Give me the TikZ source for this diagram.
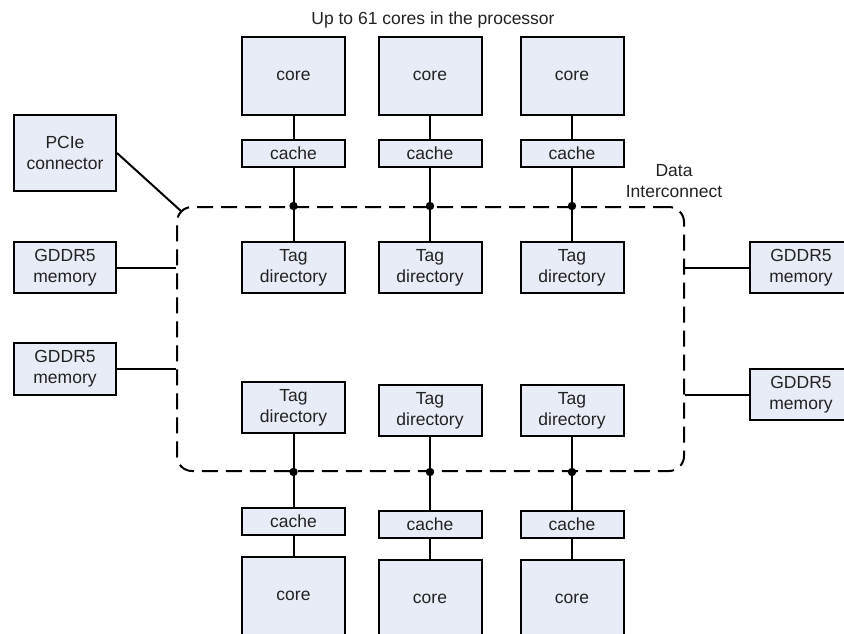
\documentclass[tikz,border=0pt]{standalone}
\usepackage{fontspec}
\setmainfont{Liberation Sans}
\begin{document}
\begin{tikzpicture}[x=1pt,y=-1pt,
  blk/.style={draw=black, fill=boxfill, line width=2pt, inner sep=0pt,
    align=center, font=\fontsize{17.5}{21}\selectfont, text=textgray, minimum width=103pt},
  corebox/.style={blk, minimum height=78pt},
  cachebox/.style={blk, minimum height=27pt},
  tagbox/.style={blk, minimum height=51pt},
  membox/.style={blk, minimum width=102pt, minimum height=51pt},
  wire/.style={line width=2pt},
  ringline/.style={line width=2pt, dash pattern=on 16pt off 8pt, rounded corners=15pt},
  lbl/.style={font=\fontsize{17.5}{21}\selectfont, text=textgray, align=center, inner sep=0pt}]
\definecolor{boxfill}{RGB}{232,236,246}
\definecolor{textgray}{RGB}{34,34,34}
\useasboundingbox (0,0) rectangle (844,633);
\clip (0,0) rectangle (844,633);

% interconnect ring
\node[draw, ringline, minimum width=507pt, minimum height=264pt, inner sep=0pt] (ring) at (430.5,339) {};
\coordinate (ringcorner) at (181.4,211.4);

% title and ring label
\node[lbl] (title) at (433,20) {Up to 61 cores in the processor};
\node[lbl] (dilabel) at (674,181) {Data\\Interconnect};

% upper row: core, cache, tag directory
\node[corebox]  (ca1) at (293.5,76) {core};
\node[corebox]  (ca2) at (430,76) {core};
\node[corebox]  (ca3) at (572,76) {core};
\node[cachebox] (ka1) at (293.5,153.5) {cache};
\node[cachebox] (ka2) at (430,153.5) {cache};
\node[cachebox] (ka3) at (572,153.5) {cache};
\node[tagbox]   (ta1) at (293.5,267.5) {Tag\\directory};
\node[tagbox]   (ta2) at (430,267.5) {Tag\\directory};
\node[tagbox]   (ta3) at (572,267.5) {Tag\\directory};

% lower row: tag directory, cache, core
\node[tagbox]   (tb1) at (293.5,407.5) {Tag\\directory};
\node[tagbox]   (tb2) at (430,410.5) {Tag\\directory};
\node[tagbox]   (tb3) at (572,410.5) {Tag\\directory};
\node[cachebox] (kb1) at (293.5,521.5) {cache};
\node[cachebox] (kb2) at (430,524.5) {cache};
\node[cachebox] (kb3) at (572,524.5) {cache};
\node[corebox]  (cb1) at (293.5,596) {core};
\node[corebox]  (cb2) at (430,599) {core};
\node[corebox]  (cb3) at (572,599) {core};

% external blocks
\node[membox, minimum height=76pt] (pcie) at (65,153) {PCIe\\connector};
\node[membox] (ml1) at (65,267.5) {GDDR5\\memory};
\node[membox, minimum height=52pt] (ml2) at (65,369) {GDDR5\\memory};
\node[membox] (mr1) at (801,267.5) {GDDR5\\memory};
\node[membox] (mr2) at (801,394.5) {GDDR5\\memory};

% core-to-ring links with junction dots
\foreach \i in {1,2,3} {
  \draw[wire] (ca\i.south) -- (ka\i.north);
  \draw[wire] (ka\i.south) -- (ta\i.north);
  \fill (ka\i.south |- ring.north) circle (4.2pt);
  \draw[wire] (tb\i.south) -- (kb\i.north);
  \draw[wire] (kb\i.south) -- (cb\i.north);
  \fill (tb\i.south |- ring.south) circle (4.2pt);
}

% external links
\draw[wire] (pcie.east) -- (ringcorner);
\draw[wire] (ml1.east) -- (ml1.east -| ring.west);
\draw[wire] (ml2.east) -- (ml2.east -| ring.west);
\draw[wire] (mr1.west) -- (mr1.west -| ring.east);
\draw[wire] (mr2.west) -- (mr2.west -| ring.east);
\end{tikzpicture}
\end{document}
